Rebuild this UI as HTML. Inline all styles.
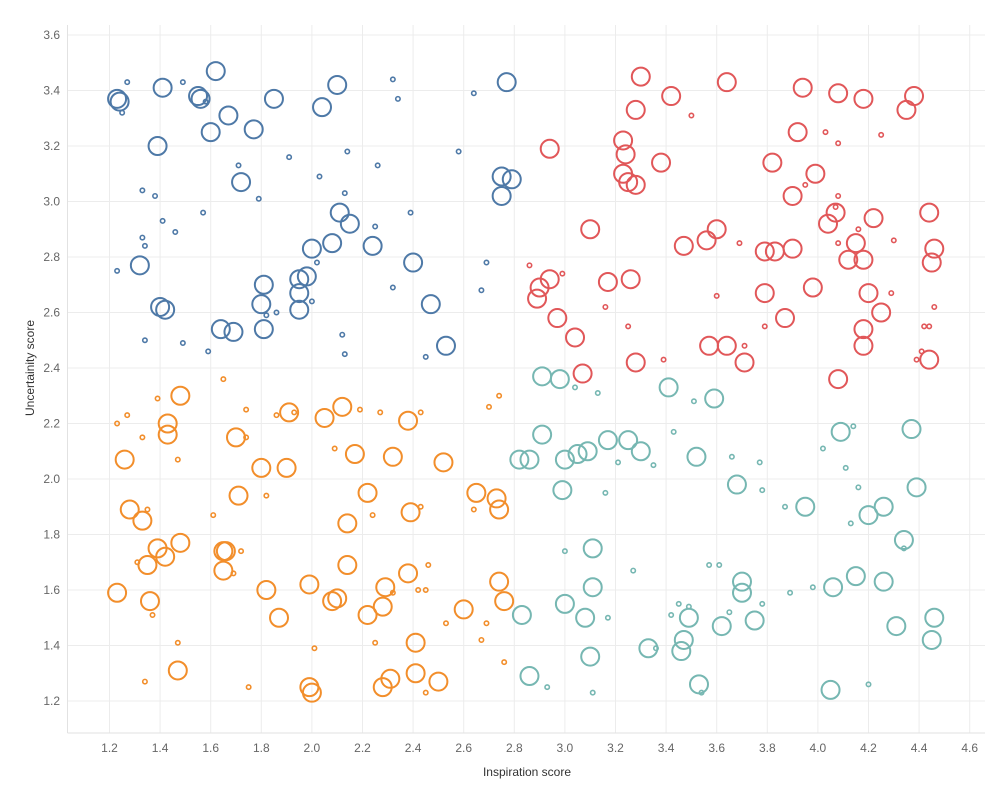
<!DOCTYPE html>
<html><head><meta charset="utf-8"><style>
html,body{margin:0;padding:0;background:#fff;}
svg text{font-family:"Liberation Sans",sans-serif;}
</style></head><body>
<svg id="chart" width="1000" height="800" xmlns="http://www.w3.org/2000/svg">
<g id="grid"></g>
<g id="axes"></g>
<g id="marks"></g>
<text x="527" y="776" font-size="12" fill="#333" text-anchor="middle">Inspiration score</text>
<text x="34" y="368" font-size="12" fill="#333" text-anchor="middle" transform="rotate(-90 34 368)">Uncertainity score</text>
</svg>
<script>
const xTicks=[1.2,1.4,1.6,1.8,2.0,2.2,2.4,2.6,2.8,3.0,3.2,3.4,3.6,3.8,4.0,4.2,4.4,4.6];
const yTicks=[1.2,1.4,1.6,1.8,2.0,2.2,2.4,2.6,2.8,3.0,3.2,3.4,3.6];
const seriesNames=["blue","red","orange","teal"];
const seriesColors=["#4e79a7","#e15759","#f28e2b","#76b7b2"];
// each point: [inspiration, uncertainty, large(1)/small(0)]
const bluePoints=[[1.23,3.37,1],[1.24,3.36,1],[1.41,3.41,1],[1.55,3.38,1],[1.56,3.37,1],[1.62,3.47,1],[1.67,3.31,1],[1.60,3.25,1],[1.77,3.26,1],[1.85,3.37,1],[2.04,3.34,1],[2.10,3.42,1],[2.77,3.43,1],[1.39,3.20,1],[1.72,3.07,1],[2.75,3.09,1],[2.79,3.08,1],[2.75,3.02,1],[2.11,2.96,1],[2.15,2.92,1],[2.00,2.83,1],[2.08,2.85,1],[2.24,2.84,1],[1.32,2.77,1],[2.40,2.78,1],[1.95,2.72,1],[1.98,2.73,1],[1.81,2.70,1],[1.95,2.67,1],[1.80,2.63,1],[1.95,2.61,1],[1.40,2.62,1],[1.42,2.61,1],[2.47,2.63,1],[1.64,2.54,1],[1.69,2.53,1],[1.81,2.54,1],[2.53,2.48,1],
[1.27,3.43,0],[1.49,3.43,0],[1.25,3.32,0],[1.58,3.36,0],[2.32,3.44,0],[2.34,3.37,0],[2.64,3.39,0],[1.91,3.16,0],[2.14,3.18,0],[2.26,3.13,0],[1.71,3.13,0],[2.58,3.18,0],[1.33,3.04,0],[1.38,3.02,0],[1.79,3.01,0],[2.03,3.09,0],[2.13,3.03,0],[1.57,2.96,0],[1.41,2.93,0],[1.46,2.89,0],[2.39,2.96,0],[2.25,2.91,0],[1.33,2.87,0],[1.34,2.84,0],[1.23,2.75,0],[2.02,2.78,0],[2.69,2.78,0],[2.67,2.68,0],[2.32,2.69,0],[1.82,2.59,0],[1.86,2.60,0],[2.00,2.64,0],[1.34,2.50,0],[1.49,2.49,0],[1.59,2.46,0],[2.12,2.52,0],[2.13,2.45,0],[2.45,2.44,0]];
const redPoints=[[3.30,3.45,1],[3.64,3.43,1],[3.42,3.38,1],[3.28,3.33,1],[3.94,3.41,1],[4.08,3.39,1],[4.18,3.37,1],[4.38,3.38,1],[4.35,3.33,1],[3.23,3.22,1],[3.24,3.17,1],[2.94,3.19,1],[3.38,3.14,1],[3.92,3.25,1],[3.23,3.10,1],[3.25,3.07,1],[3.28,3.06,1],[3.82,3.14,1],[3.99,3.10,1],[3.90,3.02,1],[4.07,2.96,1],[4.04,2.92,1],[4.22,2.94,1],[4.44,2.96,1],[3.10,2.90,1],[3.47,2.84,1],[3.56,2.86,1],[3.60,2.90,1],[3.79,2.82,1],[3.83,2.82,1],[3.90,2.83,1],[4.15,2.85,1],[4.12,2.79,1],[4.18,2.79,1],[4.46,2.83,1],[4.45,2.78,1],[2.94,2.72,1],[2.90,2.69,1],[2.89,2.65,1],[3.17,2.71,1],[3.26,2.72,1],[3.79,2.67,1],[3.98,2.69,1],[4.20,2.67,1],[2.97,2.58,1],[3.04,2.51,1],[3.87,2.58,1],[4.25,2.60,1],[4.18,2.54,1],[3.57,2.48,1],[3.64,2.48,1],[4.18,2.48,1],[3.07,2.38,1],[3.28,2.42,1],[3.71,2.42,1],[4.44,2.43,1],[4.08,2.36,1],
[3.50,3.31,0],[4.03,3.25,0],[4.08,3.21,0],[4.25,3.24,0],[3.95,3.06,0],[4.08,3.02,0],[4.07,2.98,0],[3.69,2.85,0],[4.08,2.85,0],[4.30,2.86,0],[4.16,2.90,0],[2.86,2.77,0],[2.99,2.74,0],[3.60,2.66,0],[4.29,2.67,0],[3.16,2.62,0],[3.79,2.55,0],[3.25,2.55,0],[3.71,2.48,0],[4.46,2.62,0],[4.42,2.55,0],[4.44,2.55,0],[4.41,2.46,0],[4.39,2.43,0],[3.39,2.43,0]];
const orangePoints=[[1.48,2.30,1],[1.91,2.24,1],[2.12,2.26,1],[2.05,2.22,1],[2.38,2.21,1],[1.43,2.20,1],[1.43,2.16,1],[1.70,2.15,1],[1.26,2.07,1],[2.17,2.09,1],[2.32,2.08,1],[1.80,2.04,1],[1.90,2.04,1],[2.52,2.06,1],[2.65,1.95,1],[2.22,1.95,1],[1.71,1.94,1],[2.73,1.93,1],[2.74,1.89,1],[1.28,1.89,1],[1.33,1.85,1],[2.39,1.88,1],[2.14,1.84,1],[1.48,1.77,1],[1.39,1.75,1],[1.42,1.72,1],[1.65,1.74,1],[1.66,1.74,1],[1.35,1.69,1],[2.14,1.69,1],[1.65,1.67,1],[1.99,1.62,1],[2.29,1.61,1],[2.38,1.66,1],[2.74,1.63,1],[1.23,1.59,1],[1.82,1.60,1],[1.36,1.56,1],[2.08,1.56,1],[2.10,1.57,1],[2.76,1.56,1],[2.60,1.53,1],[2.28,1.54,1],[2.22,1.51,1],[1.87,1.50,1],[2.41,1.41,1],[1.47,1.31,1],[2.41,1.30,1],[2.50,1.27,1],[2.31,1.28,1],[2.28,1.25,1],[1.99,1.25,1],[2.00,1.23,1],
[1.39,2.29,0],[1.23,2.20,0],[1.27,2.23,0],[1.33,2.15,0],[1.65,2.36,0],[1.74,2.25,0],[1.86,2.23,0],[1.93,2.24,0],[2.19,2.25,0],[2.27,2.24,0],[2.43,2.24,0],[2.70,2.26,0],[2.74,2.30,0],[1.74,2.15,0],[2.09,2.11,0],[1.47,2.07,0],[1.61,1.87,0],[1.82,1.94,0],[2.24,1.87,0],[2.43,1.90,0],[2.64,1.89,0],[1.35,1.89,0],[1.72,1.74,0],[1.31,1.70,0],[1.37,1.51,0],[1.69,1.66,0],[2.46,1.69,0],[2.32,1.59,0],[2.42,1.60,0],[2.45,1.60,0],[2.69,1.48,0],[2.53,1.48,0],[2.01,1.39,0],[2.25,1.41,0],[2.67,1.42,0],[2.76,1.34,0],[1.47,1.41,0],[1.34,1.27,0],[1.75,1.25,0],[2.45,1.23,0]];
const tealPoints=[[2.91,2.37,1],[2.98,2.36,1],[3.59,2.29,1],[3.41,2.33,1],[2.91,2.16,1],[3.17,2.14,1],[3.25,2.14,1],[3.30,2.10,1],[4.37,2.18,1],[4.09,2.17,1],[2.82,2.07,1],[2.86,2.07,1],[3.00,2.07,1],[3.05,2.09,1],[3.09,2.10,1],[3.52,2.08,1],[3.68,1.98,1],[4.39,1.97,1],[2.99,1.96,1],[3.95,1.90,1],[4.26,1.90,1],[4.20,1.87,1],[4.34,1.78,1],[3.11,1.75,1],[4.15,1.65,1],[4.26,1.63,1],[3.70,1.63,1],[3.70,1.59,1],[3.11,1.61,1],[4.06,1.61,1],[3.00,1.55,1],[3.08,1.50,1],[2.83,1.51,1],[3.49,1.50,1],[3.62,1.47,1],[3.75,1.49,1],[4.31,1.47,1],[4.46,1.50,1],[3.47,1.42,1],[3.46,1.38,1],[3.33,1.39,1],[4.45,1.42,1],[3.10,1.36,1],[2.86,1.29,1],[3.53,1.26,1],[4.05,1.24,1],
[3.04,2.33,0],[3.13,2.31,0],[3.51,2.28,0],[3.43,2.17,0],[4.02,2.11,0],[4.14,2.19,0],[3.21,2.06,0],[3.35,2.05,0],[3.66,2.08,0],[3.77,2.06,0],[4.11,2.04,0],[3.16,1.95,0],[3.78,1.96,0],[4.16,1.97,0],[3.87,1.90,0],[4.13,1.84,0],[4.34,1.75,0],[3.00,1.74,0],[3.27,1.67,0],[3.57,1.69,0],[3.61,1.69,0],[3.65,1.52,0],[3.78,1.55,0],[3.98,1.61,0],[3.89,1.59,0],[3.17,1.50,0],[3.42,1.51,0],[3.45,1.55,0],[3.49,1.54,0],[3.36,1.39,0],[4.20,1.26,0],[2.93,1.25,0],[3.11,1.23,0],[3.54,1.23,0]];
const allSeries=[bluePoints,redPoints,orangePoints,tealPoints];

const NS="http://www.w3.org/2000/svg";
const L=67.5,R=985,T=25,B=733;
const X=v=>109.5+(v-1.2)*253;
const Y=v=>701-(v-1.2)*277.5;
function mk(tag,attrs,parent){const e=document.createElementNS(NS,tag);for(const k in attrs)e.setAttribute(k,attrs[k]);parent.appendChild(e);return e;}
const grid=document.getElementById('grid'),axes=document.getElementById('axes'),marks=document.getElementById('marks');
xTicks.forEach(t=>{
  const l=mk('line',{x1:X(t),x2:X(t),y1:T,y2:B,stroke:'#ececec','stroke-width':1},grid);
  
  
  const tx=mk('text',{x:X(t),y:752,'font-size':12,fill:'#666','text-anchor':'middle'},axes);
  tx.textContent=t.toFixed(1);
  
  
});
yTicks.forEach(t=>{
  const l=mk('line',{x1:L,x2:R,y1:Y(t),y2:Y(t),stroke:'#ececec','stroke-width':1},grid);
  
  
  const tx=mk('text',{x:60,y:Y(t)+4,'font-size':12,fill:'#666','text-anchor':'end'},axes);
  tx.textContent=t.toFixed(1);
  
  
});
const bl=mk('line',{x1:L,x2:R,y1:B,y2:B,stroke:'#e2e2e2','stroke-width':1},axes);


const ll=mk('line',{x1:L,x2:L,y1:T,y2:B,stroke:'#e2e2e2','stroke-width':1},axes);


allSeries.forEach((pts,si)=>{
  pts.forEach(p=>{
    const big=p[2]===1;
    const c=mk('circle',{cx:X(p[0]),cy:Y(p[1]),r:big?9:2.2,fill:'none',stroke:seriesColors[si],'stroke-width':big?2:1.6},marks);
    
    
  });
});
</script>
</body></html>
